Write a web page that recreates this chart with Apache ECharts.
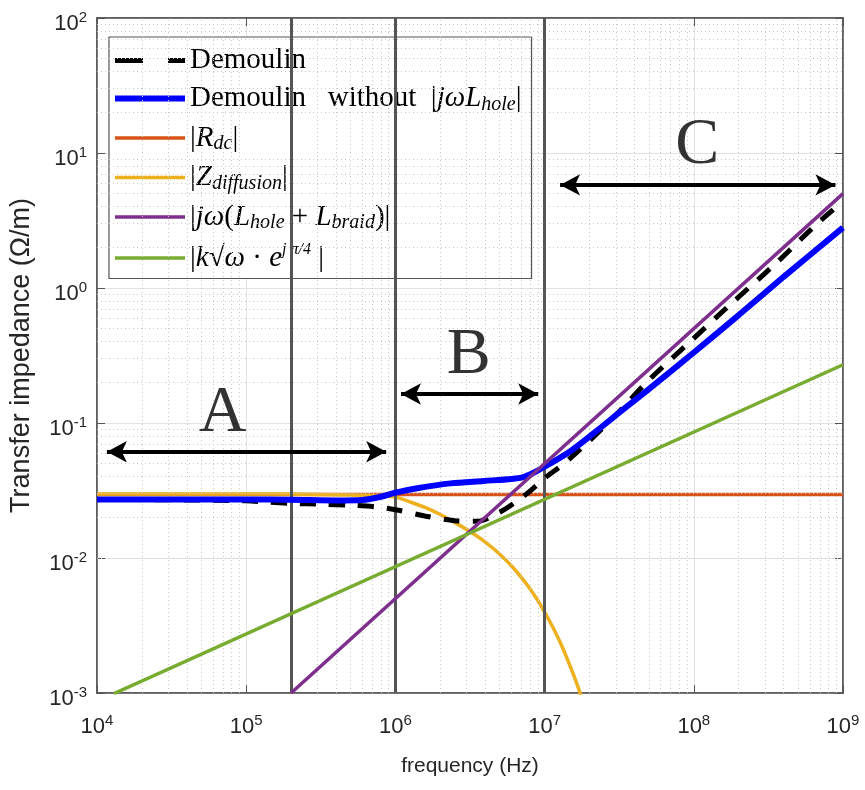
<!DOCTYPE html>
<html><head><meta charset="utf-8">
<script src="https://cdn.jsdelivr.net/npm/echarts@6/dist/echarts.min.js"></script>
<style>html,body{margin:0;padding:0;background:#fff}#c{width:865px;height:790px}</style>
</head><body><div id="c"></div>
<script>
// ---------- DATA ----------
const seriesNames = ['Demoulin', 'Demoulin without |jωLhole|', '|Rdc|', '|Zdiffusion|', '|jω(Lhole + Lbraid)|', '|k√ω·e^(jπ/4)|'];

const demoulinFreq = [1e4, 3e4, 1e5, 1.42e5, 2e5, 3.2e5, 5e5, 7.2e5, 1e6, 1.6e6, 2.5e6, 3.5e6, 5e6, 7.5e6, 1e7, 1.45e7, 2.78e7, 5e7, 9.44e7, 1.79e8, 3.5e8, 6.4e8, 1e9];
const demoulinZ    = [0.0271, 0.0270, 0.0265, 0.0259, 0.0254, 0.0250, 0.0246, 0.0240, 0.0228, 0.0204, 0.0189, 0.0187, 0.0218, 0.0296, 0.039, 0.0535, 0.105, 0.208, 0.40, 0.77, 1.5, 2.85, 4.4];

const blueFreq = [1e4, 1e5, 2e5, 4e5, 6e5, 8e5, 1e6, 1.4e6, 2.34e6, 3.9e6, 6e6, 7.2e6, 8.5e6, 1e7, 1.47e7, 2.2e7, 3.33e7, 5e7, 1e8, 2e8, 4e8, 1e9];
const blueZ    = [0.0271, 0.0271, 0.0270, 0.0267, 0.0269, 0.0284, 0.0305, 0.0329, 0.0357, 0.0372, 0.0385, 0.0397, 0.043, 0.0474, 0.0612, 0.0863, 0.125, 0.178, 0.333, 0.63, 1.21, 2.8];

const rdcFreq = [1e4, 1e9];
const rdcZ    = [0.0295, 0.0295];

const diffFreq = [1e4, 1e5, 3.16e5, 6.31e5, 1e6, 1.26e6, 1.58e6, 2e6, 2.51e6, 3.16e6, 3.98e6, 5.01e6, 6.31e6, 7.94e6, 1e7, 1.26e7, 1.58e7, 2e7];
const diffZ    = [0.0298, 0.0298, 0.0296, 0.0292, 0.0283, 0.0260, 0.0237, 0.0210, 0.01828, 0.01570, 0.01318, 0.01067, 0.00822, 0.00596, 0.00398, 0.00243, 0.00132, 0.00063];

const inductFreq = [2e5, 1e9];
const inductZ    = [1e-3, 5];

const sqrtFreq = [1.3e4, 1e9];
const sqrtZ    = [0.00099, 0.27];

const regionBounds = [2e5, 1e6, 1e7];

const arrowFreqStart = [1.165e4, 1.09e6, 1.27e7];
const arrowFreqEnd   = [8.67e5, 9.06e6, 8.9e8];
const arrowZ         = [0.0612, 0.164, 5.8];

const regionLetters = ['A', 'B', 'C'];
const letterFreq    = [6.95e4, 3.1e6, 1.055e8];
const letterZ       = [0.118, 0.313, 11.3];

const xDecades = [4, 5, 6, 7, 8, 9];
const yDecades = [-3, -2, -1, 0, 1, 2];

// ---------- BUILD ----------
const pairs = (xs, ys) => xs.map((x, i) => [x, ys[i]]);
const minorX = [], minorY = [];
for (let e = xDecades[0]; e < xDecades[xDecades.length - 1]; e++) for (let m = 2; m <= 9; m++) minorX.push(m * Math.pow(10, e));
for (let e = yDecades[0]; e < yDecades[yDecades.length - 1]; e++) for (let m = 2; m <= 9; m++) minorY.push(+(m * Math.pow(10, e)).toPrecision(3));

const SERIF = 'Liberation Serif';
const SANS = 'Liberation Sans';
const FS = 29;
const colors = ['#000', '#0000FF', '#D95319', '#EDB120', '#7E2F8E', '#77AC30'];
const legendRich = {
  t: { fontFamily: SERIF, fontSize: FS, lineHeight: 32, color: '#000' },
  i: { fontFamily: SERIF, fontStyle: 'italic', fontSize: FS, lineHeight: 32, color: '#000' },
  s: { fontFamily: SERIF, fontStyle: 'italic', fontSize: 20, lineHeight: 20, verticalAlign: 'bottom', color: '#000' },
  p: { fontFamily: SERIF, fontStyle: 'italic', fontSize: 16, lineHeight: 16, verticalAlign: 'top', color: '#000' },
  gap: { width: 5, height: 5, fontSize: 1 },
  d1: { width: 28, height: 5, backgroundColor: colors[0], fontSize: 1 },
  dg: { width: 25, height: 5, fontSize: 1 },
  d2: { width: 17, height: 5, backgroundColor: colors[0], fontSize: 1 },
  c1: { width: 70, height: 6, backgroundColor: colors[1], fontSize: 1 },
  c2: { width: 70, height: 3.5, backgroundColor: colors[2], fontSize: 1 },
  c3: { width: 70, height: 3.5, backgroundColor: colors[3], fontSize: 1 },
  c4: { width: 70, height: 3.5, backgroundColor: colors[4], fontSize: 1 },
  c5: { width: 70, height: 3.5, backgroundColor: colors[5], fontSize: 1 }
};
const legendSamples = ['{d1| }{dg| }{d2| }', '{c1| }', '{c2| }', '{c3| }', '{c4| }', '{c5| }'];
const legendTexts = [
  '{t|Demoulin}',
  '{t|Demoulin   without  |}{i|jωL}{s|hole}{t||}',
  '{t||}{i|R}{s|dc}{t||}',
  '{t||}{i|Z}{s|diffusion}{t||}',
  '{t||}{i|jω}{t|(}{i|L}{s|hole}{t| + }{i|L}{s|braid}{t|)|}',
  '{t||}{i|k}{t|√}{i|ω}{t| · }{i|e}{p|j π/4}{t| |}'
];
const legendLabels = {};
seriesNames.forEach((n, i) => { legendLabels[n] = legendSamples[i] + '{gap| }' + legendTexts[i]; });

const expLabel = v => '{b|10}{e|' + Math.round(Math.log10(v)) + '}';
const axisRich = {
  b: { fontFamily: SANS, fontSize: 22, lineHeight: 26, color: '#262626', padding: [2, 0, 0, 0] },
  e: { fontFamily: SANS, fontSize: 15, lineHeight: 14, verticalAlign: 'top', color: '#262626' }
};

const chart = echarts.init(document.getElementById('c'), null, { renderer: 'canvas' });
const lineSeries = (name, data, color, width, z, extra) => Object.assign({
  name, type: 'line', data, showSymbol: false, symbol: 'none', z,
  lineStyle: { color, width }, itemStyle: { color }, clip: true, animation: false
}, extra || {});

chart.setOption({
  animation: false,
  backgroundColor: '#fff',
  grid: { left: 90, right: 22, top: 18, bottom: 97, show: true, borderColor: '#555', borderWidth: 1.5, backgroundColor: 'transparent' },
  xAxis: [{
    type: 'log', logBase: 10, min: 1e4, max: 1e9,
    name: 'frequency (Hz)', nameLocation: 'middle', nameGap: 63,
    nameTextStyle: { fontFamily: SANS, fontSize: 21, color: '#262626' },
    axisLine: { lineStyle: { color: '#555', width: 1.5 } },
    axisTick: { inside: true, length: 8, lineStyle: { color: '#555' } },
    axisLabel: { formatter: expLabel, rich: axisRich, margin: 20 },
    splitLine: { show: true, lineStyle: { color: '#e2e2e2', width: 1 } }
  }, {
    type: 'log', logBase: 10, min: 1e4, max: 1e9, position: 'top',
    axisLine: { lineStyle: { color: '#555', width: 1.5 } },
    axisTick: { inside: true, length: 8, lineStyle: { color: '#555' } },
    axisLabel: { show: false }, splitLine: { show: false }
  }],
  yAxis: [{
    type: 'log', logBase: 10, min: 1e-3, max: 1e2,
    name: 'Transfer impedance (Ω/m)', nameLocation: 'middle', nameGap: 62,
    nameTextStyle: { fontFamily: SANS, fontSize: 27, color: '#262626' },
    axisLine: { show: true, lineStyle: { color: '#555', width: 1.5 } },
    axisTick: { show: true, inside: true, length: 8, lineStyle: { color: '#555' } },
    axisLabel: { formatter: expLabel, rich: axisRich, margin: 10, padding: [10, 0, 0, 0] },
    splitLine: { show: true, lineStyle: { color: '#e2e2e2', width: 1 } }
  }, {
    type: 'log', logBase: 10, min: 1e-3, max: 1e2, position: 'right',
    axisLine: { show: true, lineStyle: { color: '#555', width: 1.5 } },
    axisTick: { show: true, inside: true, length: 8, lineStyle: { color: '#555' } },
    axisLabel: { show: false }, splitLine: { show: false }
  }],
  legend: {
    orient: 'vertical', left: 109, top: 37,
    padding: [9, 10, 6, 1], itemGap: 9, itemWidth: 0, itemHeight: 0,
    backgroundColor: '#fff', borderColor: '#555', borderWidth: 1.2,
    data: seriesNames.map(n => ({ name: n, icon: 'rect', itemStyle: { opacity: 0 } })),
    formatter: n => legendLabels[n],
    textStyle: { rich: legendRich, fontFamily: SERIF, fontSize: FS },
    selectedMode: false
  },
  series: [
    {
      name: 'minorGrid', type: 'line', data: [[1e4, 0.03]], showSymbol: false, symbol: 'none',
      lineStyle: { opacity: 0 }, z: 1, silent: true,
      markLine: {
        silent: true, symbol: 'none', label: { show: false }, animation: false,
        lineStyle: { type: [1, 3], color: '#c8c8c8', width: 1 },
        data: minorX.map(v => ({ xAxis: v })).concat(minorY.map(v => ({ yAxis: v })))
      }
    },
    lineSeries(seriesNames[2], pairs(rdcFreq, rdcZ), colors[2], 3.5, 3),
    lineSeries(seriesNames[3], pairs(diffFreq, diffZ), colors[3], 3.5, 4, { smooth: 0.2 }),
    lineSeries(seriesNames[0], pairs(demoulinFreq, demoulinZ), colors[0], 5, 5, { smooth: 0.3, lineStyle: { color: colors[0], width: 5, type: [16, 13] } }),
    lineSeries(seriesNames[1], pairs(blueFreq, blueZ), colors[1], 6, 6, { smooth: 0.3 }),
    lineSeries(seriesNames[4], pairs(inductFreq, inductZ), colors[4], 3.5, 7),
    lineSeries(seriesNames[5], pairs(sqrtFreq, sqrtZ), colors[5], 3.5, 8),
    {
      name: 'regions', type: 'line', data: [[1e4, 0.03]], showSymbol: false, symbol: 'none',
      lineStyle: { opacity: 0 }, z: 9, silent: true,
      markLine: {
        silent: true, symbol: 'none', label: { show: false }, animation: false,
        lineStyle: { type: 'solid', color: '#555', width: 3 },
        data: regionBounds.map(v => ({ xAxis: v }))
      }
    },
    {
      name: 'arrows', type: 'line', data: [[1e4, 0.03]], showSymbol: false, symbol: 'none',
      lineStyle: { opacity: 0 }, z: 10, silent: true,
      markLine: {
        silent: true, symbol: ['arrow', 'arrow'], symbolSize: [16, 20], label: { show: false }, animation: false,
        lineStyle: { type: 'solid', color: '#000', width: 4 },
        itemStyle: { color: '#000' },
        data: arrowZ.map((z, i) => [{ coord: [arrowFreqStart[i], z] }, { coord: [arrowFreqEnd[i], z] }])
      }
    },
    {
      name: 'letters', type: 'scatter', symbolSize: 0, z: 10, silent: true,
      data: regionLetters.map((t, i) => [letterFreq[i], letterZ[i], t]),
      label: { show: true, position: 'inside', formatter: p => p.data[2], fontFamily: SERIF, fontSize: 66, color: '#000' }
    }
  ]
});
</script></body></html>
